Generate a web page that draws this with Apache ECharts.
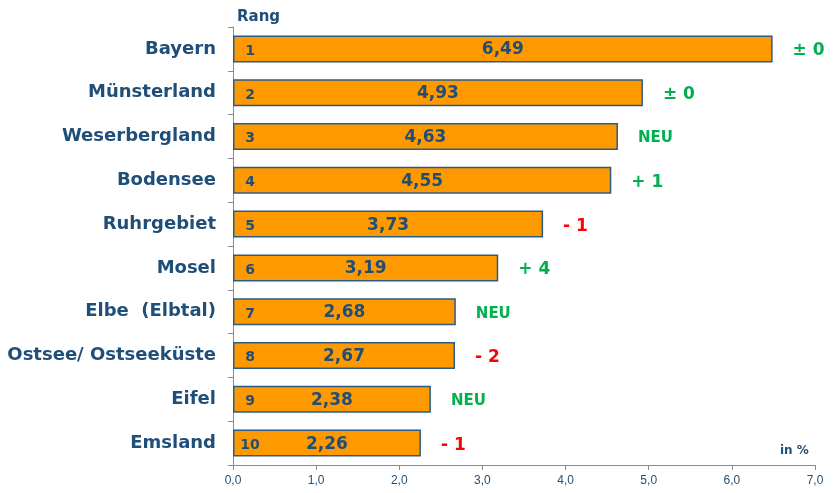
<!DOCTYPE html>
<html>
<head>
<meta charset="utf-8">
<style>
html, body {
  margin: 0;
  padding: 0;
  background: #FFF;
}
#chart {
  width: 839px;
  height: 493px;
}
</style>
<script src="https://cdn.jsdelivr.net/npm/echarts@6/dist/echarts.min.js"></script>
</head>
<body>
<div id="chart"></div>
<script>
// Daten
var regions = ['Bayern', 'Münsterland', 'Weserbergland', 'Bodensee', 'Ruhrgebiet', 'Mosel', 'Elbe  (Elbtal)', 'Ostsee/ Ostseeküste', 'Eifel', 'Emsland']
var shares = [6.49, 4.93, 4.63, 4.55, 3.73, 3.19, 2.68, 2.67, 2.38, 2.26]
var ranks = ['1', '2', '3', '4', '5', '6', '7', '8', '9', '10']
var changes = ['± 0', '± 0', 'NEU', '+ 1', '- 1', '+ 4', 'NEU', '- 2', 'NEU', '- 1']
var xTicks = ['0,0', '1,0', '2,0', '3,0', '4,0', '5,0', '6,0', '7,0']

var blue = '#1F4E79'
var font = 'DejaVu Sans'
var fmt = v => v.toFixed(2).replace('.', ',')

function changeColor (c) {
  if (c.charAt(0) === '-') return '#FF0000'
  return '#00B050'
}

var chart = echarts.init(document.getElementById('chart'))

var option = {
  animation: false,
  grid: {
    left: 233,
    right: 24,
    top: 27,
    bottom: 28,
    containLabel: false
  },
  xAxis: {
    type: 'value',
    min: 0,
    max: 7,
    interval: 1,
    splitLine: { show: false },
    axisLine: { show: true, lineStyle: { color: '#8C8C8C' } },
    axisTick: { show: true, length: 5, lineStyle: { color: '#8C8C8C' } },
    axisLabel: {
      color: blue,
      fontSize: 12,
      fontFamily: 'Liberation Sans',
      margin: 10,
      formatter: v => xTicks[Math.round(v)]
    }
  },
  yAxis: {
    type: 'category',
    inverse: true,
    data: regions,
    axisLine: { show: true, lineStyle: { color: '#8C8C8C' } },
    axisTick: { show: true, length: 5, lineStyle: { color: '#8C8C8C' } },
    axisLabel: {
      color: blue,
      fontSize: 18,
      fontWeight: 'bold',
      fontFamily: font,
      margin: 17
    }
  },
  series: [
    {
      type: 'bar',
      barWidth: 27,
      data: shares,
      itemStyle: {
        color: '#FF9900',
        borderColor: '#2B5C86',
        borderWidth: 1.5
      },
      label: {
        show: true,
        position: 'inside',
        offset: [0, 1],
        color: blue,
        fontSize: 17,
        fontWeight: 'bold',
        fontFamily: font,
        formatter: p => fmt(p.value)
      }
    },
    {
      type: 'bar',
      barWidth: 27,
      barGap: '-100%',
      silent: true,
      data: shares,
      itemStyle: { color: 'transparent' },
      label: {
        show: true,
        position: [17, '58%'],
        align: 'center',
        verticalAlign: 'middle',
        color: blue,
        fontSize: 14,
        fontWeight: 'bold',
        fontFamily: font,
        formatter: p => ranks[p.dataIndex]
      }
    },
    {
      type: 'bar',
      barWidth: 27,
      barGap: '-100%',
      silent: true,
      data: shares.map((v, i) => ({
        value: v,
        label: {
          color: changeColor(changes[i]),
          fontSize: changes[i] === 'NEU' ? 15 : 17,
          offset: [0, 2]
        }
      })),
      itemStyle: { color: 'transparent' },
      label: {
        show: true,
        position: 'right',
        distance: 20,
        fontWeight: 'bold',
        fontFamily: font,
        formatter: p => changes[p.dataIndex]
      }
    }
  ],
  graphic: [
    {
      type: 'text',
      left: 237,
      top: 10,
      style: {
        text: 'Rang',
        fill: blue,
        font: 'bold 15px "DejaVu Sans"'
      }
    },
    {
      type: 'text',
      left: 780,
      top: 445,
      style: {
        text: 'in %',
        fill: blue,
        font: 'bold 12px "DejaVu Sans"'
      }
    }
  ]
}

chart.setOption(option)
</script>
</body>
</html>
